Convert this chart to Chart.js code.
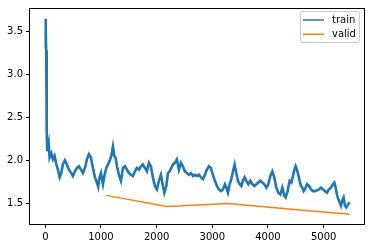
<!DOCTYPE html>
<html><head><meta charset="utf-8">
<script src="https://cdn.jsdelivr.net/npm/chart.js@4/dist/chart.umd.min.js"></script>
<style>html,body{margin:0;padding:0;background:#fff}</style></head>
<body>
<canvas id="c" width="372" height="248"></canvas>
<script>
const trainSteps=[0,4,8,12,16,22,28,34,45,60,77,108,137,167,198,227,257,287,316,352,388,424,467,496,532,568,604,640,676,712,748,784,820,856,892,928,950,975,1000,1036,1065,1096,1125,1155,1186,1215,1240,1263,1287,1323,1359,1395,1430,1466,1502,1538,1574,1610,1646,1682,1718,1754,1789,1825,1861,1897,1933,1969,2005,2041,2077,2113,2138,2174,2203,2233,2264,2293,2328,2364,2400,2436,2472,2508,2544,2580,2616,2652,2688,2724,2760,2796,2832,2868,2903,2939,2975,3011,3047,3083,3119,3155,3191,3227,3252,3281,3311,3342,3371,3401,3431,3460,3491,3521,3550,3580,3611,3647,3683,3719,3755,3791,3827,3863,3899,3935,3971,4006,4042,4078,4114,4150,4186,4222,4258,4294,4317,4353,4389,4420,4449,4474,4497,4520,4545,4569,4592,4617,4641,4664,4700,4736,4772,4808,4844,4880,4916,4952,4988,5023,5059,5095,5131,5167,5192,5216,5239,5264,5288,5311,5336,5359,5383,5408,5444,5465];
const trainLoss=[3.30,3.65,3.35,3.50,3.28,2.80,2.35,2.12,2.15,2.20,2.03,2.08,2.01,2.05,1.95,1.89,1.80,1.85,1.95,2.00,1.95,1.89,1.85,1.815,1.87,1.91,1.93,1.89,1.85,1.91,2.01,2.07,2.03,1.91,1.80,1.74,1.69,1.80,1.85,1.72,1.83,1.91,1.95,1.99,2.05,2.16,2.05,2.03,1.93,1.83,1.76,1.91,1.93,1.89,1.85,1.83,1.815,1.87,1.91,1.89,1.93,1.95,1.91,1.87,1.97,1.93,1.80,1.70,1.66,1.76,1.83,1.70,1.62,1.70,1.85,1.87,1.91,1.95,1.97,2.01,1.89,1.97,1.93,1.87,1.85,1.83,1.85,1.815,1.83,1.815,1.83,1.80,1.78,1.83,1.89,1.93,1.91,1.83,1.76,1.70,1.66,1.64,1.66,1.72,1.68,1.62,1.72,1.78,1.87,1.95,1.85,1.76,1.72,1.70,1.76,1.80,1.76,1.72,1.76,1.72,1.70,1.72,1.74,1.76,1.74,1.72,1.68,1.72,1.815,1.87,1.80,1.68,1.62,1.60,1.68,1.585,1.565,1.64,1.76,1.74,1.815,1.89,1.93,1.89,1.83,1.76,1.70,1.68,1.64,1.66,1.72,1.70,1.66,1.64,1.64,1.65,1.66,1.68,1.66,1.64,1.62,1.66,1.68,1.72,1.74,1.68,1.60,1.545,1.51,1.47,1.53,1.565,1.47,1.45,1.49,1.51];
const validSteps=[1093,2186,3279,4372,5465];
const validLoss=[1.59,1.46,1.495,1.43,1.37];
const xTicks=[0,1000,2000,3000,4000,5000];
const yTicks=[1.5,2.0,2.5,3.0,3.5];
const seriesNames=['train','valid'];
const seriesColors=['#1f77b4','#ff7f0e'];

const FONT='"DejaVu Sans", sans-serif';
Chart.defaults.font.family='"DejaVu Sans", sans-serif';
Chart.defaults.font.size=10;
Chart.defaults.color='#000';

const frame={id:'frame',afterDraw(chart){
  const a=chart.chartArea,ctx=chart.ctx;
  ctx.save();
  ctx.strokeStyle='#000';ctx.lineWidth=1;
  ctx.strokeRect(Math.round(a.left)-0.5,Math.round(a.top)-0.5,Math.round(a.right-a.left)+1,Math.round(a.bottom-a.top)+1);
  // legend
  const bx=300.5,by=11.5,bw=59,bh=31,r=2.5;
  ctx.beginPath();
  ctx.moveTo(bx+r,by);ctx.lineTo(bx+bw-r,by);ctx.arcTo(bx+bw,by,bx+bw,by+r,r);
  ctx.lineTo(bx+bw,by+bh-r);ctx.arcTo(bx+bw,by+bh,bx+bw-r,by+bh,r);
  ctx.lineTo(bx+r,by+bh);ctx.arcTo(bx,by+bh,bx,by+bh-r,r);
  ctx.lineTo(bx,by+r);ctx.arcTo(bx,by,bx+r,by,r);ctx.closePath();
  ctx.fillStyle='rgba(255,255,255,0.8)';ctx.fill();
  ctx.strokeStyle='#cccccc';ctx.lineWidth=1;ctx.stroke();
  chart.data.datasets.forEach((ds,i)=>{
    const y=20+i*14.3;
    ctx.strokeStyle=ds.borderColor;ctx.lineWidth=1.5;
    ctx.beginPath();ctx.moveTo(303,y);ctx.lineTo(324,y);ctx.stroke();
    ctx.fillStyle='#000';ctx.font='10px '+FONT;ctx.textBaseline='middle';ctx.textAlign='left';
    ctx.fillText(ds.label,332,y);
  });
  ctx.restore();
}};

new Chart(document.getElementById('c'),{
  type:'line',
  data:{datasets:[
    {label:seriesNames[0],data:trainSteps.map((s,i)=>({x:s,y:trainLoss[i]})),borderColor:seriesColors[0],backgroundColor:seriesColors[0],borderWidth:2.6,pointRadius:0,tension:0,order:1},
    {label:seriesNames[1],data:validSteps.map((s,i)=>({x:s,y:validLoss[i]})),borderColor:seriesColors[1],backgroundColor:seriesColors[1],borderWidth:1.5,pointRadius:0,tension:0,order:0}
  ]},
  options:{
    responsive:false,animation:false,devicePixelRatio:1,
    layout:{padding:{left:0,top:6,right:8,bottom:0}},
    plugins:{legend:{display:false},tooltip:{enabled:false}},
    scales:{
      x:{type:'linear',min:-275,max:5725,
        afterFit(s){s.height=24;},
        afterBuildTicks(s){s.ticks=xTicks.map(v=>({value:v}));},
        grid:{drawOnChartArea:false,drawTicks:true,tickLength:4,color:'#000',tickColor:'#000'},
        border:{display:false},
        ticks:{padding:3,color:'#000',callback:v=>String(v),maxRotation:0,autoSkip:false}},
      y:{type:'linear',min:1.256,max:3.764,
        afterFit(s){s.width=30;},
        afterBuildTicks(s){s.ticks=yTicks.map(v=>({value:v}));},
        grid:{drawOnChartArea:false,drawTicks:true,tickLength:4,color:'#000',tickColor:'#000'},
        border:{display:false},
        ticks:{padding:3,color:'#000',callback:v=>v.toFixed(1),autoSkip:false}}
    }
  },
  plugins:[frame]
});
</script>
</body></html>
